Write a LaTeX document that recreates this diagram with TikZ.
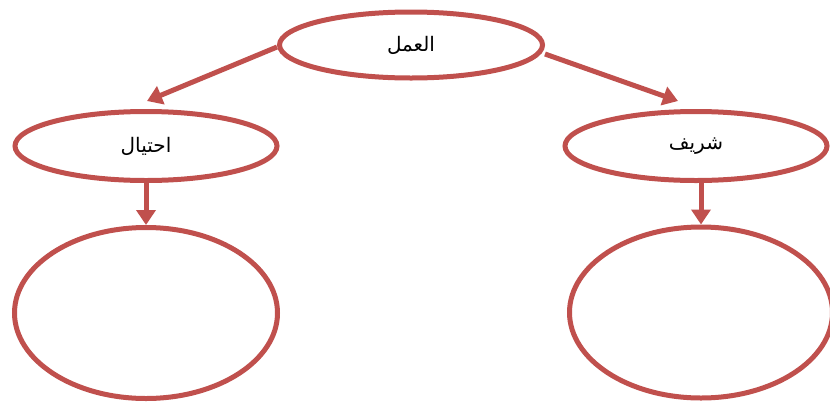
\documentclass[tikz,border=0pt]{standalone}
\usepackage{fontspec}
\newfontfamily\arabicfont[Script=Arabic]{DejaVu Sans}
\TeXXeTstate=1
\usetikzlibrary{shapes.geometric,arrows.meta}
\definecolor{ovalred}{HTML}{C0504D}
\begin{document}
\begin{tikzpicture}[x=1pt, y=-1pt, >={Triangle[length=15pt,width=19pt]},
  oval/.style={draw=ovalred, line width=5pt, ellipse, inner sep=0pt,
    font=\arabicfont\fontsize{20}{24}\selectfont},
  link/.style={->, draw=ovalred, line width=5pt}]
\useasboundingbox (0,0) rectangle (830,405);
% الصف الأول
\node[oval, minimum width=263pt, minimum height=66pt] (amal) at (411,45) {\beginR العمل\endR};
% الصف الثاني
\node[oval, minimum width=262pt, minimum height=69pt] (ihtiyal) at (146,146) {\beginR احتيال\endR};
\node[oval, minimum width=262pt, minimum height=69pt] (sharif) at (696,146) {\beginR شريف\endR};
% الصف الثالث
\node[oval, minimum width=263pt, minimum height=171pt] (box1) at (146,313) {};
\node[oval, minimum width=263pt, minimum height=171pt] (box2) at (701,312.5) {};
% نهايات الأسهم
\coordinate (t1) at (147,101);
\coordinate (t2) at (678,101);
\draw[link] ([yshift=-2pt]amal.west) -- (t1);
\draw[link] ([yshift=-9pt]amal.east) -- (t2);
\draw[link] (ihtiyal.south) -- (box1.north);
\draw[link] ([xshift=5pt]sharif.south) -- (box2.north);
\end{tikzpicture}
\end{document}
